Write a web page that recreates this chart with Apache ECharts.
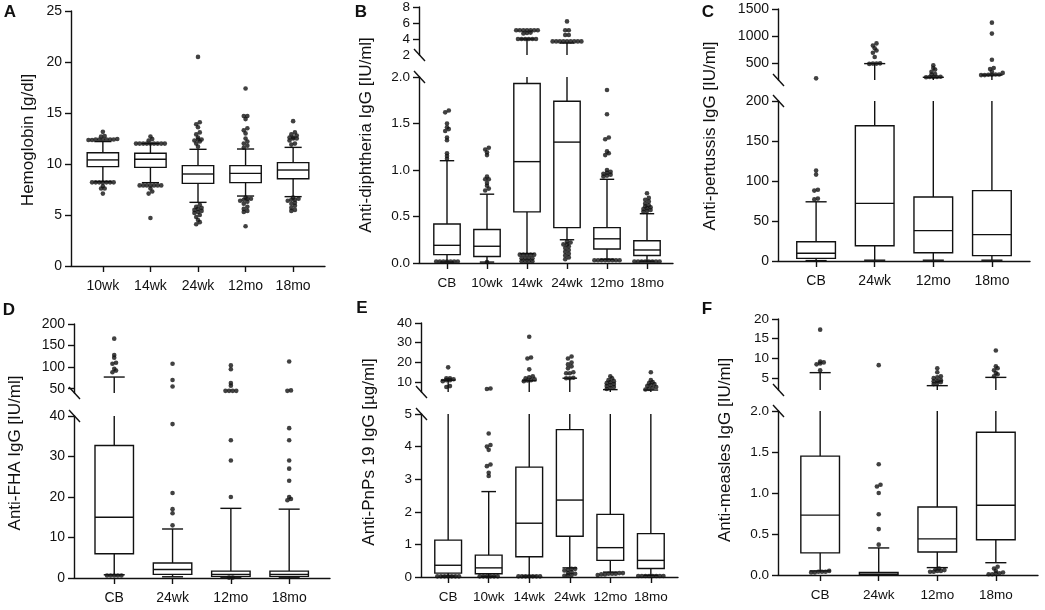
<!DOCTYPE html>
<html><head><meta charset="utf-8">
<script src="https://cdn.jsdelivr.net/npm/echarts@6/dist/echarts.min.js"></script>
<style>html,body{margin:0;padding:0;background:#fff}#c{width:1045px;height:610px}</style>
</head><body><div id="c"></div>
<script>
// ---------------- DATA ----------------
// box rows: [lower whisker, Q1, median, Q3, upper whisker]
const catsA = ['10wk','14wk','24wk','12mo','18mo'];
const boxA = [[8.27,9.74,10.4,11.1,12.2],[8.17,9.67,10.46,11.05,12.0],[6.24,8.1,9.02,9.84,11.44],[6.86,8.17,9.08,9.84,11.47],[6.8,8.56,9.41,10.13,11.63]];
const outA = [
  [12.35,12.4,12.4,12.4,12.4,12.45,12.4,12.4,12.35,12.7,12.75,13.15, 8.2,8.2,8.2,8.2,8.2,8.2,8.2,7.85,7.6,7.6,7.1],
  [12.0,12.0,12.0,12.0,12.0,12.0,12.0,12.0,12.0,12.3,12.45,12.7, 7.9,7.9,7.9,7.9,7.9,7.9,7.9,7.6,7.3,7.1,4.7],
  [11.7,12.0,12.2,12.3,12.4,12.4,12.6,12.9,13.1,13.6,13.9,14.1,20.5, 6.0,5.8,5.7,5.6,5.5,5.4,5.3,5.2,5.0,4.8,4.5,4.3,4.1],
  [11.6,11.8,12.0,12.2,12.5,13.0,13.3,13.5,14.4,14.7,14.7,17.4, 6.7,6.6,6.6,6.5,6.4,6.3,6.1,5.8,5.6,5.4,5.3,3.9],
  [11.9,12.0,12.3,12.5,12.5,12.6,12.6,12.8,12.9,13.1,14.2, 6.7,6.6,6.5,6.5,6.4,6.2,6.1,5.9,5.7,5.5,5.4]
];
const yTicksA = [0,5,10,15,20,25];

const catsB = ['CB','10wk','14wk','24wk','12mo','18mo'];
const boxB = [[0.01,0.09,0.19,0.42,1.1],[0.01,0.07,0.18,0.36,0.74],[0.1,0.55,1.09,1.93,4.0],[0.25,0.38,1.3,1.74,3.5],[0.04,0.15,0.26,0.38,0.9],[0.02,0.08,0.14,0.24,0.53]];
const outB = [
  [1.12,1.15,1.18,1.32,1.35,1.42,1.44,1.46,1.5,1.62,1.64, 0.015,0.015,0.015,0.015,0.015,0.015,0.015],
  [0.78,0.8,0.83,0.86,0.9,0.9,0.93,1.16,1.19,1.22,1.24, 0.01],
  [0.09,0.09,0.09,0.09,0.09,0.05,0.05,0.05,0.05,0.02,0.02,0.02,0.02, 4.0,4.0,4.0,4.0,4.0,4.0,4.7,4.75,4.8,5.1,5.1,5.1,5.1,5.1,5.1,5.1],
  [0.23,0.22,0.2,0.2,0.18,0.16,0.14,0.12,0.1,0.08,0.06,0.04, 3.7,3.7,3.7,3.7,3.7,3.7,3.7,3.7,3.7,4.5,4.5,5.1,5.1,6.2],
  [0.93,0.94,0.95,0.96,0.97,0.98,1.0,1.16,1.18,1.2,1.33,1.35,1.6,1.86, 0.03,0.03,0.03,0.03,0.03,0.03,0.03,0.03],
  [0.55,0.56,0.57,0.58,0.59,0.6,0.61,0.62,0.64,0.66,0.68,0.7,0.75, 0.015,0.015,0.015,0.015,0.015,0.015,0.015,0.015]
];
const yTicksBLow = [0,0.5,1,1.5,2];
const yTicksBHigh = [2,4,6,8];

const catsC = ['CB','24wk','12mo','18mo'];
const boxC = [[0.5,3.3,9.6,24,74],[1,19,72,169,500],[1,10.4,38,80,250],[1,6.7,33,88,290]];
const outC = [
  [77,78,88,89,108,113,230],
  [495,500,505,500,620,700,740,780,830,870],
  [255,260,255,250,255,300,310,350,390,420,470],
  [290,290,295,300,300,295,330,350,400,420,570,1050,1250]
];
const yTicksCLow = [0,50,100,150,200];
const yTicksCHigh = [500,1000,1500];

const catsD = ['CB','24wk','12mo','18mo'];
const boxD = [[0.8,6.0,15,32.7,77],[0.3,0.9,2.1,3.7,12.1],[0.05,0.4,0.9,1.7,17.2],[0.05,0.4,0.9,1.7,17]];
const outD = [
  [0.6,0.6,0.6,0.6,0.6, 88,92,96,108,110,122,128,166],
  [13,16,17,21,38,55,70,108],
  [0.1,0.1, 20,29,34,45,45,45,45,57,63,95,104],
  [19.2,19.5,20,24,27,29,34,37,45,46,113]
];
const yTicksDLow = [0,10,20,30,40];
const yTicksDHigh = [50,100,150,200];

const catsE = ['CB','10wk','14wk','24wk','12mo','18mo'];
const boxE = [[0.03,0.12,0.36,1.13,11],[0.02,0.1,0.28,0.67,2.62],[0.03,0.62,1.65,3.37,10.7],[0.28,1.25,2.36,4.52,12],[0.15,0.51,0.9,1.92,6.2],[0.05,0.26,0.51,1.33,6]];
const outE = [
  [7.5,8,10.5,11,11,11.5,12,12,17.5, 0.02,0.02,0.02,0.02,0.02,0.02,0.02],
  [3.1,3.2,3.4,3.45,3.9,4.0,4.05,4.4,6.5,6.8, 0.02,0.02,0.02,0.02,0.02,0.02],
  [10.5,10.8,11,11.5,12,12.5,13,16.5,22,22.5,33, 0.02,0.02,0.02,0.02,0.02,0.02,0.02],
  [12,12,12.2,14.5,14.5,15,17,18,19,20,22,23, 0.25,0.25,0.22,0.2,0.15,0.12,0.1,0.06,0.05,0.04],
  [6.5,7,7.5,8,8.5,9,9.5,10,10.5,11,12,13, 0.12,0.1,0.1,0.08,0.08,0.06,0.1,0.12],
  [6.3,6.6,7,7.5,8,8.5,9,9.5,10,11,15, 0.03,0.03,0.03,0.03,0.03,0.03,0.03,0.03]
];
const yTicksELow = [0,1,2,3,4,5];
const yTicksEHigh = [10,20,30,40];

const catsF = ['CB','24wk','12mo','18mo'];
const boxF = [[0.05,0.27,0.73,1.45,6.4],[0.0,0.005,0.01,0.03,0.33],[0.09,0.28,0.44,0.83,3.1],[0.15,0.43,0.85,1.74,5.2]];
const outF = [
  [7,8.5,8.7,9,9.2,17.3, 0.03,0.04,0.04,0.03,0.05,0.04],
  [0.37,0.56,0.74,1.0,1.08,1.1,1.35,8.3],
  [3.5,3.8,4,4.2,4.3,4.5,5,5.2,5.5,6.5,7.5, 0.04,0.05,0.06,0.07,0.08,0.05,0.04],
  [5.5,6,6.3,7,7.5,8,12, 0.01,0.02,0.03,0.05,0.08,0.1,0.02,0.01]
];
const yTicksFLow = [0,0.5,1,1.5,2];
const yTicksFHigh = [5,10,15,20];

// ---------------- LAYOUT ----------------
const FONT = "'Liberation Sans', Arial, sans-serif";
const INK = '#111';
const panels = [
  {letter:'A', name:'Hemoglobin [g/dl]', cats:catsA, box:boxA, out:outA, left:71, width:254, xMin:-0.67, xMax:4.67, fs:14,
   low:{min:0,max:25,top:11,height:255,labels:yTicksA,ticks:yTicksA,dec:0}, high:null,
   nameX:28, nameY:140, letX:10, letY:12},
  {letter:'B', name:'Anti-diphtheria IgG [IU/ml]', cats:catsB, box:boxB, out:outB, left:419, width:254, xMin:-0.7, xMax:5.65, fs:13.5,
   low:{min:0,max:2,top:77,height:186,labels:yTicksBLow,ticks:yTicksBLow,dec:1},
   high:{min:2,max:8,top:7,height:48,labels:yTicksBHigh,ticks:yTicksBHigh.slice(1),dec:0},
   nameX:366, nameY:135, letX:361, letY:12},
  {letter:'C', name:'Anti-pertussis IgG [IU/ml]', cats:catsC, box:boxC, out:outC, left:778, width:252, xMin:-0.65, xMax:3.65, fs:14,
   low:{min:0,max:200,top:101,height:160,labels:yTicksCLow,ticks:yTicksCLow,dec:0},
   high:{min:200,max:1500,top:9,height:71,labels:yTicksCHigh,ticks:yTicksCHigh,dec:0},
   nameX:710, nameY:136, letX:708, letY:12},
  {letter:'D', name:'Anti-FHA IgG [IU/ml]', cats:catsD, box:boxD, out:outD, left:74, width:256, xMin:-0.69, xMax:3.7, fs:14,
   low:{min:0,max:40,top:416,height:162,labels:yTicksDLow,ticks:yTicksDLow,dec:0},
   high:{min:40,max:200,top:324,height:69,labels:yTicksDHigh,ticks:yTicksDHigh,dec:0},
   nameX:15, nameY:453, letX:9, letY:310},
  {letter:'E', name:'Anti-PnPs 19 IgG [\u00b5g/ml]', cats:catsE, box:boxE, out:outE, left:421, width:257, xMin:-0.67, xMax:5.67, fs:13.5,
   low:{min:0,max:5,top:414,height:163,labels:yTicksELow,ticks:yTicksELow,dec:0},
   high:{min:5,max:40,top:323,height:69,labels:yTicksEHigh,ticks:yTicksEHigh,dec:0},
   nameX:369, nameY:452, letX:362, letY:308},
  {letter:'F', name:'Anti-measles IgG [IU/ml]', cats:catsF, box:boxF, out:outF, left:778, width:260, xMin:-0.72, xMax:3.72, fs:13.5,
   low:{min:0,max:2,top:411,height:164,labels:yTicksFLow,ticks:yTicksFLow,dec:1},
   high:{min:2,max:20,top:319,height:71,labels:yTicksFHigh,ticks:yTicksFHigh,dec:0},
   nameX:725, nameY:450, letX:707, letY:309}
];

const BOXW = 0.66, CAPW = 0.36;

function swarm(vals, tol, step) {
  const s = vals.slice().sort((a,b)=>a-b);
  const res = [];
  let i = 0;
  while (i < s.length) {
    let j = i;
    while (j + 1 < s.length && s[j+1] - s[i] < tol) j++;
    const n = j - i + 1;
    for (let k = 0; k < n; k++) res.push([(k - (n-1)/2) * step, s[i+k]]);
    i = j + 1;
  }
  return res;
}

function makeRender(yMin, yMax) {
  return function (params, api) {
    const x = api.value(0);
    const lo = api.value(1), q1 = api.value(2), md = api.value(3), q3 = api.value(4), hi = api.value(5);
    const cl = v => Math.max(yMin, Math.min(yMax, v));
    const P = v => api.coord([x, cl(v)]);
    const cx = P(yMin)[0];
    const bw = api.size([BOXW, 0])[0];
    const cw = api.size([CAPW, 0])[0];
    const Y = v => P(v)[1];
    const inR = v => v >= yMin && v <= yMax;
    const st = {stroke: INK, lineWidth: 1.4, fill: null};
    const ch = [];
    if (hi > yMin && q3 < yMax) ch.push({type:'line', shape:{x1:cx,y1:Y(q3),x2:cx,y2:Y(hi)}, style:st});
    if (inR(hi) && hi > q3) ch.push({type:'line', shape:{x1:cx-cw/2,y1:Y(hi),x2:cx+cw/2,y2:Y(hi)}, style:st});
    if (q1 > yMin && lo < yMax) ch.push({type:'line', shape:{x1:cx,y1:Y(lo),x2:cx,y2:Y(q1)}, style:st});
    if (inR(lo) && lo < q1) ch.push({type:'line', shape:{x1:cx-cw/2,y1:Y(lo),x2:cx+cw/2,y2:Y(lo)}, style:st});
    if (q3 > yMin && q1 < yMax) {
      const yt = Y(q3), yb = Y(q1);
      ch.push({type:'rect', shape:{x:cx-bw/2, y:yt, width:bw, height:Math.max(yb-yt,0.5)}, style:{stroke:INK, lineWidth:1.4, fill:'#fff'}});
    }
    if (inR(md)) ch.push({type:'line', shape:{x1:cx-bw/2,y1:Y(md),x2:cx+bw/2,y2:Y(md)}, style:st});
    return {type:'group', children: ch};
  };
}

const grid = [], xAxis = [], yAxis = [], series = [], breaks = [];
panels.forEach(p => {
  const idx = p.cats.map((c,i)=>i);
  const pxPerX = p.width / (p.xMax - p.xMin);
  const step = 3.6 / pxPerX;
  const segs = [['low', p.low]];
  if (p.high) segs.push(['high', p.high]);
  segs.forEach(([kind, s]) => {
    const gi = grid.length;
    s.gi = gi;
    grid.push({left:p.left, top:s.top, width:p.width, height:s.height, containLabel:false, outerBoundsMode:'none'});
    const isLow = kind === 'low';
    xAxis.push({
      type:'value', gridIndex:gi, min:p.xMin, max:p.xMax, show:isLow,
      splitLine:{show:false},
      axisLine:{show:true, onZero:false, lineStyle:{color:INK, width:1.4}},
      axisTick:{show:true, customValues:idx, length:6, lineStyle:{color:INK, width:1.4}},
      axisLabel:{customValues:idx, formatter:v => p.cats[Math.round(v)], margin:13, fontSize:p.fs, color:INK, fontFamily:FONT}
    });
    yAxis.push({
      type:'value', gridIndex:gi, min:s.min, max:s.max,
      splitLine:{show:false},
      axisLine:{show:true, onZero:false, lineStyle:{color:INK, width:1.4}},
      axisTick:{show:true, customValues:s.ticks, length:6, lineStyle:{color:INK, width:1.4}},
      axisLabel:{customValues:s.labels, formatter:v => v.toFixed(s.dec), margin:9, fontSize:p.fs, color:INK, fontFamily:FONT}
    });
    series.push({
      type:'custom', xAxisIndex:gi, yAxisIndex:gi, clip:false, silent:true,
      renderItem: makeRender(s.min, s.max),
      encode:{x:0, y:[1,2,3,4,5]},
      data: p.box.map((b,i) => [i].concat(b)), z:2
    });
    const pxPerY = s.height / (s.max - s.min);
    const tol = 2.4 / pxPerY;
    const pts = [];
    p.out.forEach((vals, i) => {
      const mine = vals.filter(v => isLow ? v <= p.low.max : v > p.low.max);
      swarm(mine, tol, step).forEach(([dx, v]) => pts.push([i + dx, v]));
    });
    series.push({
      type:'scatter', xAxisIndex:gi, yAxisIndex:gi, symbol:'circle', symbolSize:4.6,
      itemStyle:{color:INK}, data:pts, z:3, silent:true
    });
  });
  if (p.high) breaks.push(p);
});

const chart = echarts.init(document.getElementById('c'), null, {renderer:'canvas'});
chart.setOption({animation:false, backgroundColor:'#fff', grid, xAxis, yAxis, series});

const graphic = [];
panels.forEach(p => {
  graphic.push({type:'text', x:p.letX, y:p.letY, style:{text:p.letter, font:'bold 17px ' + FONT, fill:INK, align:'center', verticalAlign:'middle'}});
  graphic.push({type:'text', x:p.nameX, y:p.nameY, rotation:Math.PI/2, style:{text:p.name, font:'17px ' + FONT, fill:INK, align:'center', verticalAlign:'middle'}});
});
breaks.forEach(p => {
  const a = chart.convertToPixel({gridIndex:p.high.gi}, [p.xMin, p.high.min]);
  const b = chart.convertToPixel({gridIndex:p.low.gi}, [p.xMin, p.low.max]);
  [a, b].forEach(pt => {
    graphic.push({type:'line', shape:{x1:pt[0]-5, y1:pt[1]-6, x2:pt[0]+6, y2:pt[1]+6}, style:{stroke:INK, lineWidth:1.4}});
  });
});
chart.setOption({graphic});
</script>
</body></html>
